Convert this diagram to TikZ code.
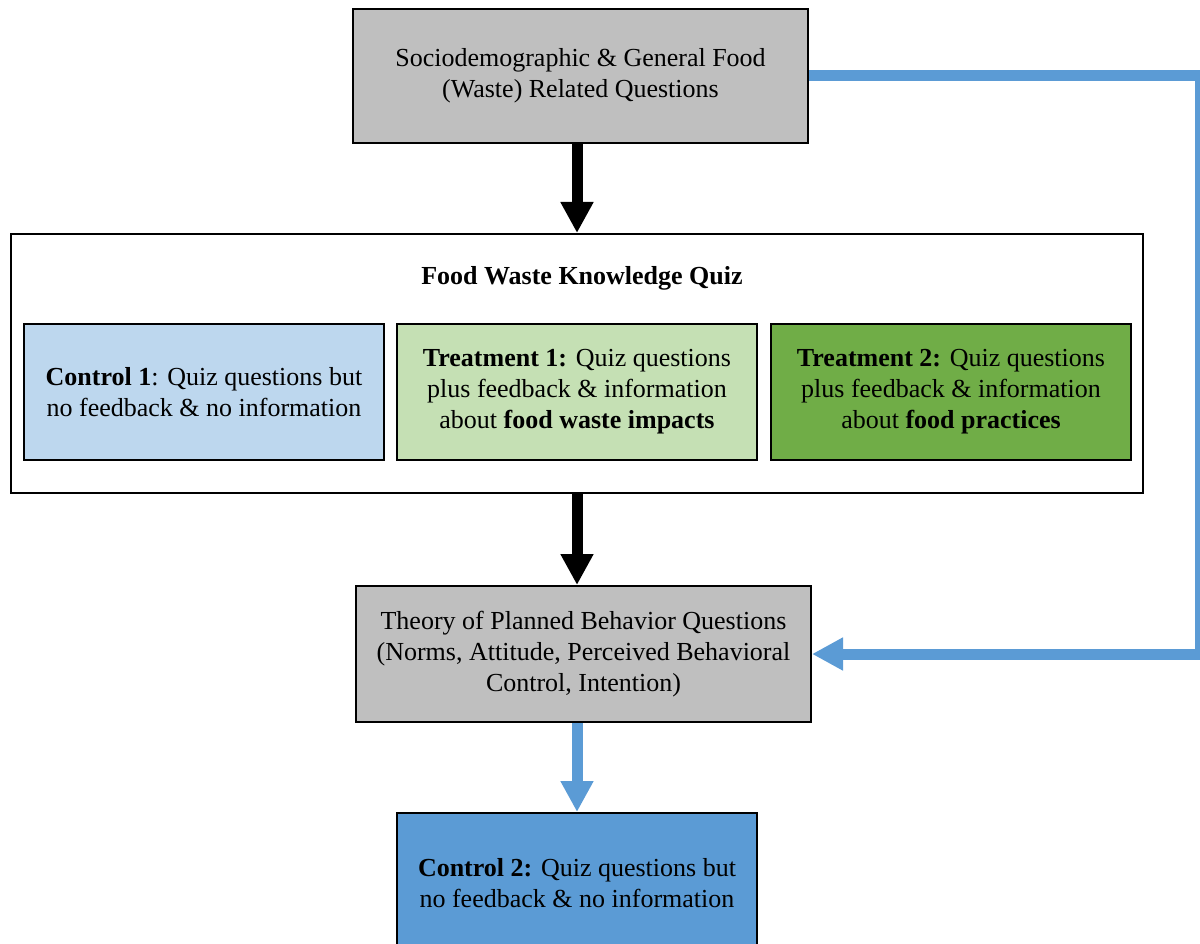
\documentclass[tikz,border=0pt]{standalone}
\usepackage{fontspec}
\setmainfont{Liberation Serif}
\usetikzlibrary{arrows.meta}
\definecolor{boxgray}{HTML}{BFBFBF}
\definecolor{ctrlblue}{HTML}{BDD7EE}
\definecolor{lightgreen}{HTML}{C5E0B4}
\definecolor{darkgreen}{HTML}{70AD47}
\definecolor{linkblue}{HTML}{5B9BD5}
\begin{document}
\begin{tikzpicture}[x=1pt,y=-1pt,
  every node/.style={font=\fontsize{26}{31}\selectfont},
  box/.style={draw=black, line width=2pt, rectangle, inner sep=0pt,
    align=center, anchor=north west},
  flow/.style={line width=11pt, -{Triangle[length=31pt,width=31pt]}},
  blackflow/.style={flow, black},
  blueflow/.style={flow, linkblue}]
\useasboundingbox (0,0) rectangle (1200,944);
\clip (0,0) rectangle (1200,944);

% survey blocks
\node[box, fill=boxgray, minimum width=455pt, minimum height=134pt] (top) at (352,8)
  {Sociodemographic \& General Food\\(Waste) Related Questions};
\node[box, fill=white, minimum width=1132pt, minimum height=259pt] (quiz) at (10,233) {};
\node[font=\fontsize{26}{31}\selectfont\bfseries] (quiztitle) at (582,278) {Food Waste Knowledge Quiz};
\node[box, fill=ctrlblue, minimum width=360pt, minimum height=136pt] (c1) at (23,323)
  {\textbf{Control 1}: Quiz questions but\\no feedback \& no information};
\node[box, fill=lightgreen, minimum width=360pt, minimum height=136pt] (t1) at (396,323)
  {\textbf{Treatment 1:} Quiz questions\\plus feedback \& information\\about \textbf{food waste impacts}};
\node[box, fill=darkgreen, minimum width=360pt, minimum height=136pt] (t2) at (770,323)
  {\textbf{Treatment 2:} Quiz questions\\plus feedback \& information\\about \textbf{food practices}};
\node[box, fill=boxgray, minimum width=455pt, minimum height=136pt] (tpb) at (355,585)
  {Theory of Planned Behavior Questions\\(Norms, Attitude, Perceived Behavioral\\Control, Intention)};
\node[box, fill=linkblue, minimum width=360pt, minimum height=140pt] (c2) at (396,812)
  {\textbf{Control 2:} Quiz questions but\\no feedback \& no information};

% connectors
\draw[blackflow] (quiz.north |- top.south) -- (quiz.north);
\draw[blackflow] (quiz.south) -- (quiz.south |- tpb.north);
\draw[blueflow] (c2.north |- tpb.south) -- (c2.north);
\coordinate (bend) at (1200,0);
\draw[blueflow, line join=miter] (top.east) -- (top.east -| bend) -- (bend |- tpb.east) -- (tpb.east);
\end{tikzpicture}
\end{document}
